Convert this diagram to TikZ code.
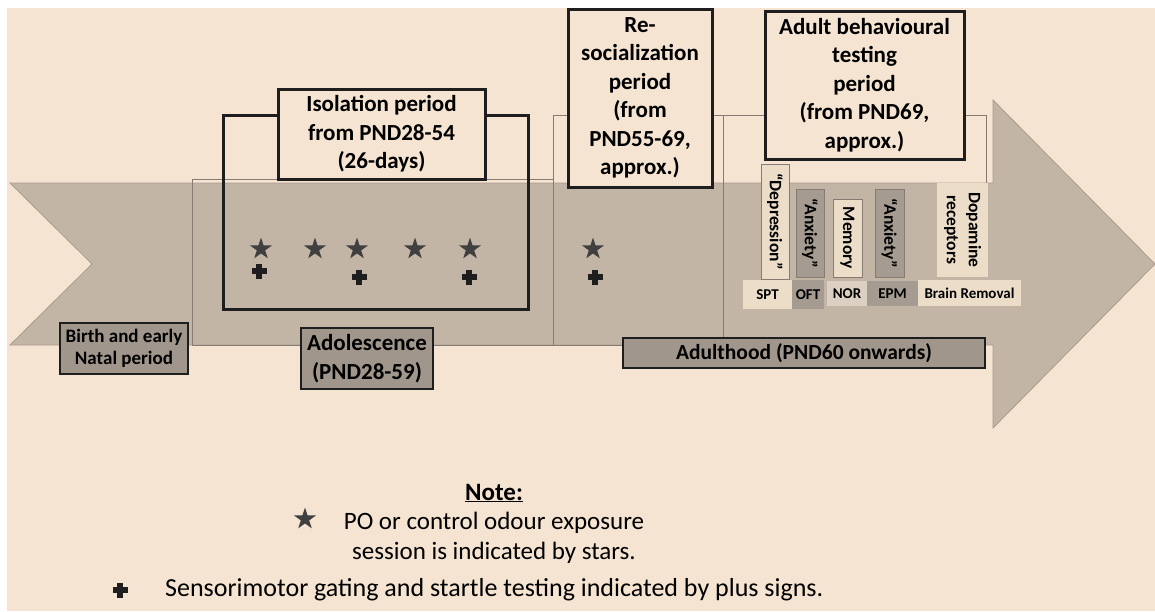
\documentclass[tikz,border=0pt]{standalone}
\usepackage{fontspec}
\setmainfont{Carlito}
\usetikzlibrary{shapes.geometric}

\definecolor{paper}{HTML}{F5E4D1}
\definecolor{band}{HTML}{C3B5A6}
\definecolor{bandedge}{HTML}{A99B8D}
\definecolor{tagdark}{HTML}{A1968B}
\definecolor{cell}{HTML}{ECDDC9}
\definecolor{celldark}{HTML}{A59B91}
\definecolor{cellmid}{HTML}{DCD0C2}
\definecolor{frameline}{HTML}{857B72}
\definecolor{ink}{HTML}{1E1E1E}
\definecolor{starink}{HTML}{404040}

\tikzset{
  bigfont/.style={font=\fontsize{23}{28.5}\selectfont\bfseries},
  periodbox/.style={draw=ink, line width=3pt, fill=paper, align=center, inner sep=0pt, bigfont},
  stagetag/.style={draw=ink, line width=2pt, fill=tagdark, align=center, inner sep=0pt},
  thinframe/.style={draw=frameline, line width=0.9pt, inner sep=0pt},
  vcell/.style={rotate=-90, inner sep=0pt, align=center, font=\fontsize{17.5}{22}\selectfont\bfseries},
  hcell/.style={inner sep=0pt, font=\fontsize{15}{18}\selectfont\bfseries},
  odour/.style={star, star points=5, star point ratio=2.6, fill=starink, inner sep=0pt, minimum size=23pt},
  plusmark/.style={inner sep=0pt, minimum size=16pt, path picture={
    \fill[ink] ([shift={(-7.5pt,-2.8pt)}]path picture bounding box.center) rectangle ([shift={(7.5pt,2.8pt)}]path picture bounding box.center);
    \fill[ink] ([shift={(-2.8pt,-7.5pt)}]path picture bounding box.center) rectangle ([shift={(2.8pt,7.5pt)}]path picture bounding box.center);}},
  notefont/.style={font=\fontsize{25}{30.5}\selectfont}
}

\begin{document}
\begin{tikzpicture}[x=1pt,y=-1pt]
\useasboundingbox (0,0) rectangle (1155,611);
% page and panel
\fill[white] (0,0) rectangle (1155,611);
\fill[paper] (7,8) rectangle (1155,611);

% time line arrow
\fill[band, draw=bandedge, line width=0.8pt] (10,183) -- (993,183) -- (993,100) -- (1155,264)
  -- (993,428) -- (993,345) -- (10,345) -- (92,264) -- cycle;

% period frames
\node[thinframe, minimum width=361pt, minimum height=166pt] (adolframe) at (372.5,262) {};
\node[thinframe, minimum width=170pt, minimum height=230pt] (resoframe) at (638,230) {};
\draw[frameline, line width=0.9pt] (723,345) -- (723,115) -- (986,115) -- (986,183);
\node[draw=ink, line width=3pt, inner sep=0pt, minimum width=305pt, minimum height=194pt] (isoframe) at (375.5,212) {};

% period headings
\node[periodbox, minimum width=207pt, minimum height=90pt] (isolabel) at (381.5,134)
  {Isolation period\\from PND28-54\\(26-days)};
\node[periodbox, minimum width=144pt, minimum height=178pt] (resolabel) at (640,98)
  {Re-\\socialization\\period\\(from\\PND55-69,\\approx.)};
\node[periodbox, minimum width=199pt, minimum height=148pt] (adultlabel) at (864.5,85)
  {Adult behavioural\\testing\\period\\(from PND69,\\approx.)};

% odour exposure sessions and startle tests
\node[odour] (s1) at (261,249) {};
\node[odour] (s2) at (315,249) {};
\node[odour] (s3) at (357,249) {};
\node[odour] (s4) at (415,249) {};
\node[odour] (s5) at (470,249) {};
\node[odour] (s6) at (593,249) {};
\node[plusmark] (p1) at (259,271) {};
\node[plusmark] (p2) at (359,277) {};
\node[plusmark] (p3) at (469,277) {};
\node[plusmark] (p4) at (595,277) {};

% behavioural tests
\node[vcell, fill=cell, draw=frameline, line width=0.8pt, minimum width=115pt, minimum height=28pt] (dep) at (775,221.5) {“Depression”};
\node[vcell, fill=celldark, draw=frameline, line width=0.8pt, minimum width=88pt, minimum height=28pt] (anx1) at (810,233) {“Anxiety”};
\node[vcell, fill=cell, draw=frameline, line width=0.8pt, minimum width=78pt, minimum height=29pt] (mem) at (847.5,238) {Memory};
\node[vcell, fill=celldark, draw=frameline, line width=0.8pt, minimum width=88pt, minimum height=29pt] (anx2) at (889.5,233) {“Anxiety”};
\node[vcell, fill=cell, minimum width=94pt, minimum height=51pt] (dop) at (962.5,230) {Dopamine\\receptors};

\node[hcell, fill=cell, minimum width=49pt, minimum height=29pt] (spt) at (767.5,294.5) {SPT};
\node[hcell, fill=celldark, minimum width=32pt, minimum height=29pt] (oft) at (808,294.5) {OFT};
\node[hcell, fill=cellmid, minimum width=40pt, minimum height=25pt] (nor) at (847,293.5) {NOR};
\node[hcell, fill=celldark, minimum width=51pt, minimum height=25pt] (epm) at (892.5,293.5) {EPM};
\node[hcell, fill=cell, minimum width=103pt, minimum height=26pt] (brain) at (969.5,293) {Brain Removal};

% life stages
\node[stagetag, minimum width=128pt, minimum height=51pt, font=\fontsize{19}{22}\selectfont\bfseries] (birth) at (124,348.5) {Birth and early\\Natal period};
\node[stagetag, minimum width=132pt, minimum height=61pt, bigfont] (adoltag) at (367,358.5) {Adolescence\\(PND28-59)};
\node[stagetag, minimum width=362pt, minimum height=30pt, font=\fontsize{21.5}{25}\selectfont\bfseries] (adulttag) at (804,353) {Adulthood (PND60 onwards)};

% key
\node[notefont, font=\fontsize{25}{30.5}\selectfont\bfseries] (notehead) at (494,493) {\underline{Note:}};
\node[notefont, align=center] (notestar) at (494,538) {PO or control odour exposure\\session is indicated by stars.};
\node[odour] (keystar) at (305,519) {};
\node[plusmark] (keyplus) at (120,590) {};
\node[font=\fontsize{26}{31}\selectfont, anchor=west, inner sep=0pt] (noteplus) at (165,590) {Sensorimotor gating and startle testing indicated by plus signs.};
\end{tikzpicture}
\end{document}
